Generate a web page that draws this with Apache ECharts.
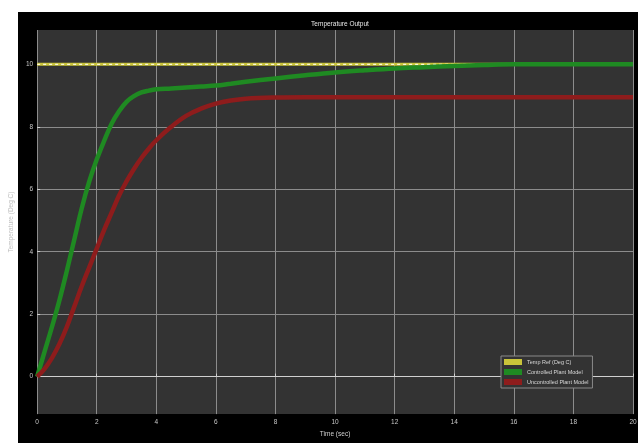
<!DOCTYPE html>
<html>
<head>
<meta charset="utf-8">
<script src="https://cdn.jsdelivr.net/npm/echarts@6/dist/echarts.min.js"></script>
<style>
  html, body { margin: 0; padding: 0; background: #ffffff; }
  #chart { width: 643px; height: 443px; }
</style>
</head>
<body>
<div id="chart"></div>
<script>
// Simulation time samples (s)
const timeSec = [0, 0.25, 0.5, 0.75, 1, 1.25, 1.5, 1.75, 2, 2.25, 2.5, 2.75, 3, 3.25, 3.5, 3.75, 4, 4.5, 5, 5.5, 6, 6.5, 7, 8, 9, 10, 11, 12, 13, 14, 15, 16, 17, 18, 19, 20];

// Reference set point (Deg C)
const refTemp = [10, 10, 10, 10, 10, 10, 10, 10, 10, 10, 10, 10, 10, 10, 10, 10, 10, 10, 10, 10, 10, 10, 10, 10, 10, 10, 10, 10, 10, 10, 10, 10, 10, 10, 10, 10];

// Closed-loop response
const controlled = [0, 0.8, 1.6, 2.45, 3.4, 4.4, 5.4, 6.25, 6.95, 7.55, 8.1, 8.5, 8.8, 8.98, 9.1, 9.16, 9.2, 9.23, 9.26, 9.29, 9.32, 9.38, 9.44, 9.55, 9.65, 9.74, 9.81, 9.87, 9.91, 9.95, 9.98, 10, 10, 10, 10, 10];

// Open-loop response
const uncontrolled = [0, 0.25, 0.6, 1.05, 1.6, 2.25, 2.9, 3.5, 4.1, 4.7, 5.25, 5.8, 6.25, 6.65, 7.0, 7.3, 7.57, 8.0, 8.35, 8.58, 8.74, 8.84, 8.9, 8.94, 8.95, 8.95, 8.95, 8.95, 8.95, 8.95, 8.95, 8.95, 8.95, 8.95, 8.95, 8.95];

const xTicks = [0, 2, 4, 6, 8, 10, 12, 14, 16, 18, 20];
const yTicks = [0, 2, 4, 6, 8, 10];

const seriesNames = ['Temp Ref (Deg C)', 'Controlled Plant Model', 'Uncontrolled Plant Model'];

const pairs = arr => timeSec.map((t, i) => [t, arr[i]]);

const chart = echarts.init(document.getElementById('chart'), null, { renderer: 'canvas' });

const FONT = "'Liberation Sans', Arial, sans-serif";
const labelStyle = { color: '#c8c8c8', fontSize: 6.5, fontFamily: FONT };

chart.setOption({
  animation: false,
  backgroundColor: 'transparent',
  graphic: [
    { type: 'rect', z: -10, shape: { x: 18, y: 12, width: 620, height: 431 }, style: { fill: '#000000' } }
  ],
  title: {
    text: 'Temperature Output',
    left: 335, top: 16, textAlign: 'center',
    textStyle: { color: '#e8e8e8', fontSize: 6.5, fontWeight: 'normal', fontFamily: FONT }
  },
  grid: {
    left: 36, top: 30, right: 10, bottom: 24,
    show: true, backgroundColor: '#333333', borderColor: '#333333', borderWidth: 0
  },
  legend: {
    left: 501, top: 356, orient: 'vertical',
    itemWidth: 18, itemHeight: 6, itemGap: 4,
    padding: [3, 4, 3, 3],
    borderColor: '#8a8a8a', borderWidth: 1, backgroundColor: '#333333',
    textStyle: { color: '#d8d8d8', fontSize: 5.5, fontFamily: FONT },
    data: seriesNames.map(n => ({ name: n, icon: 'rect' }))
  },
  xAxis: {
    type: 'value', min: 0, max: 20, interval: 2,
    name: 'Time (sec)', nameLocation: 'middle', nameGap: 13,
    nameTextStyle: { color: '#d0d0d0', fontSize: 6.5, fontFamily: FONT },
    axisLine: { show: true, lineStyle: { color: '#d0d0d0', width: 1 } },
    axisTick: { show: true, inside: true, length: 3, lineStyle: { color: '#d0d0d0' } },
    axisLabel: Object.assign({ margin: 5, customValues: xTicks }, labelStyle),
    splitLine: { show: true, lineStyle: { color: '#8c8c8c', width: 1 } }
  },
  yAxis: {
    type: 'value', min: -1.2, max: 11.1,
    name: 'Temperature (Deg C)', nameLocation: 'middle', nameGap: 13, nameRotate: 90,
    nameTextStyle: { color: '#bdbdbd', fontSize: 6.5, fontFamily: FONT },
    axisLine: { show: false },
    axisTick: { show: true, inside: true, length: 3, customValues: yTicks, lineStyle: { color: '#d0d0d0' } },
    axisLabel: Object.assign({ margin: 4, customValues: yTicks }, labelStyle),
    splitLine: { show: true, lineStyle: { color: '#8c8c8c', width: 1 } }
  },
  series: [
    {
      name: seriesNames[0], type: 'line', data: pairs(refTemp),
      symbol: 'none', z: 2,
      itemStyle: { color: '#c9c43a' },
      lineStyle: { color: '#c9c43a', width: 3 }
    },
    {
      // pale dashes over the reference line
      name: 'refDash', type: 'line', data: pairs(refTemp),
      symbol: 'none', z: 3, silent: true,
      lineStyle: { color: '#fbf8dc', width: 1.4, type: [3, 3] }
    },
    {
      name: seriesNames[1], type: 'line', data: pairs(controlled),
      symbol: 'none', smooth: 0.4, z: 4,
      itemStyle: { color: '#1f8a22' },
      lineStyle: { color: '#1f8a22', width: 4.5 }
    },
    {
      name: seriesNames[2], type: 'line', data: pairs(uncontrolled),
      symbol: 'none', smooth: 0.4, z: 4,
      itemStyle: { color: '#8e1c1c' },
      lineStyle: { color: '#8e1c1c', width: 4.5 }
    }
  ]
});
</script>
</body>
</html>
